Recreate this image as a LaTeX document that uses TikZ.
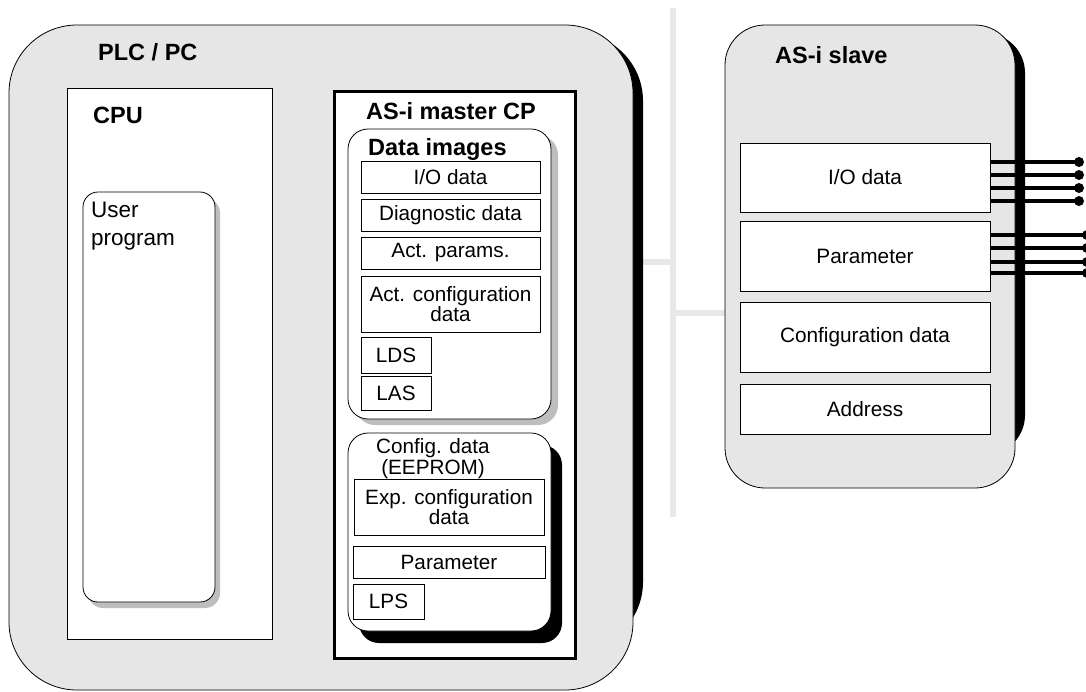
\documentclass[tikz,border=0pt]{standalone}
\usepackage{fontspec}
\setmainfont{Liberation Sans}
\usepackage{tikz}
\usetikzlibrary{positioning}
\pgfdeclarelayer{background}
\pgfsetlayers{background,main}
\definecolor{panelgray}{RGB}{230,230,230}
\definecolor{shadegray}{RGB}{190,190,190}
\definecolor{busgray}{RGB}{232,232,232}

\tikzset{
  head/.style={font=\fontsize{23.5}{28}\selectfont\bfseries, inner sep=0pt},
  cell/.style={draw, line width=0.8pt, fill=white, inner sep=0pt, outer sep=0pt,
    font=\fontsize{20.7}{20}\selectfont, align=center},
  panel/.style={draw, line width=0.8pt, fill=panelgray, inner sep=0pt, outer sep=0pt},
  bus/.style={busgray, line width=6pt},
  wire/.style={line width=4pt},
}

\begin{document}
\begin{tikzpicture}[x=1pt,y=-1pt]
\useasboundingbox (0,0) rectangle (1086,691);
\begin{pgfonlayer}{background}
\fill[white] (0,0) rectangle (1086,691);
\end{pgfonlayer}

% PLC / PC side
\node[panel, rounded corners=68pt, minimum width=624pt, minimum height=665pt] (plc) at (321,357.5) {};
\node[head, anchor=base west] (plclabel) at (98,60) {PLC / PC};

\node[cell, minimum width=205pt, minimum height=551pt] (cpu) at (169.5,363.5) {};
\node[head, anchor=base west] (cpulabel) at (93,123) {CPU};
\fill[shadegray, rounded corners=15pt] (88,198) rectangle (220,608);
\node[cell, rounded corners=15pt, minimum width=132pt, minimum height=410pt] (userprog) at (149,397) {};
\node[anchor=north west, inner sep=0pt, align=left, font=\fontsize{22.5}{28}\selectfont] (usertext) at (91,202) {User\\program};

% master CP
\node[draw, fill=white, line width=3pt, inner sep=0pt, minimum width=241pt, minimum height=567pt] (master) at (455,375) {};
\node[head, anchor=base] (masterlabel) at (451,119) {AS-i master CP};

\fill[shadegray, rounded corners=20pt] (355,135) rectangle (558,425);
\node[cell, rounded corners=20pt, minimum width=203pt, minimum height=290pt] (images) at (449.5,274) {};
\node[head, anchor=base west] (imageslabel) at (368,155) {Data images};
\node[cell, minimum width=179pt, minimum height=32pt] (io) at (450.5,177) {I/O data};
\node[cell, minimum width=179pt, minimum height=32pt, below=6pt of io] (diag) {Diagnostic data};
\node[cell, minimum width=179pt, minimum height=32pt, below=6pt of diag] (params) {Act. params.};
\node[cell, minimum width=179pt, minimum height=56pt, below=7pt of params] (actcfg) {Act. configuration\\data};
\node[cell, minimum width=70pt, minimum height=36pt, below right=5pt and 0pt of actcfg.south west] (lds) {LDS};
\node[cell, minimum width=70pt, minimum height=34pt, below right=3pt and 0pt of lds.south west] (las) {LAS};

\fill[black, rounded corners=20pt] (359,445) rectangle (562,643);
\node[cell, rounded corners=20pt, minimum width=203pt, minimum height=198pt] (eeprom) at (449.5,532) {};
\node[anchor=north, inner sep=0pt, align=center, font=\fontsize{20.7}{21}\selectfont] (eepromlabel) at (433,438) {Config. data\\(EEPROM)};
\node[cell, minimum width=190pt, minimum height=56pt] (expcfg) at (449,507) {Exp. configuration\\data};
\node[cell, minimum width=192pt, minimum height=32pt, below=11pt of expcfg] (eparam) {Parameter};
\node[cell, minimum width=71pt, minimum height=35pt, below right=6pt and 0pt of eparam.south west] (lps) {LPS};

% AS-i slave
\node[panel, rounded corners=40pt, minimum width=290pt, minimum height=463pt] (slave) at (870,256.5) {};
\node[head, anchor=base west] (slavelabel) at (775,63) {AS-i slave};
\node[cell, minimum width=250pt, minimum height=69pt, font=\fontsize{20.8}{24}\selectfont] (sio) at (865,177.5) {I/O data};
\node[cell, minimum width=250pt, minimum height=70pt, font=\fontsize{20.8}{24}\selectfont, below=9pt of sio] (spar) {Parameter};
\node[cell, minimum width=250pt, minimum height=70pt, font=\fontsize{20.8}{24}\selectfont, below=11pt of spar] (scfg) {Configuration data};
\node[cell, minimum width=250pt, minimum height=50pt, font=\fontsize{20.8}{24}\selectfont, below=12pt of scfg] (saddr) {Address};

% bus
\coordinate (bustop) at (673,8);
\coordinate (busbot) at (673,517);
\begin{pgfonlayer}{background}
\draw[bus] (bustop) -- (busbot);
\draw[bus] (plc.east |- 0,262) -- (bustop |- 0,262);
\draw[bus] (bustop |- 0,313) -- (slave.west |- 0,313);
% shadows of the outer boxes
\fill[black, rounded corners=68pt] ([shift={(10,8)}]plc.north west) rectangle ([shift={(10,-40)}]plc.south east);
\fill[black, rounded corners=40pt] ([shift={(10,8)}]slave.north west) rectangle ([shift={(10,-33)}]slave.south east);
\end{pgfonlayer}

% field wires
\foreach \wy in {162,175,188,201} {
  \coordinate (wend) at (1079,\wy);
  \draw[wire] (sio.east |- wend) -- (wend);
  \fill (wend) circle[radius=5pt];
}
\foreach \wy in {235,248,262,273} {
  \coordinate (wend) at (1087,\wy);
  \draw[wire] (spar.east |- wend) -- (wend);
  \fill (wend) circle[radius=5pt];
}
\end{tikzpicture}
\end{document}
